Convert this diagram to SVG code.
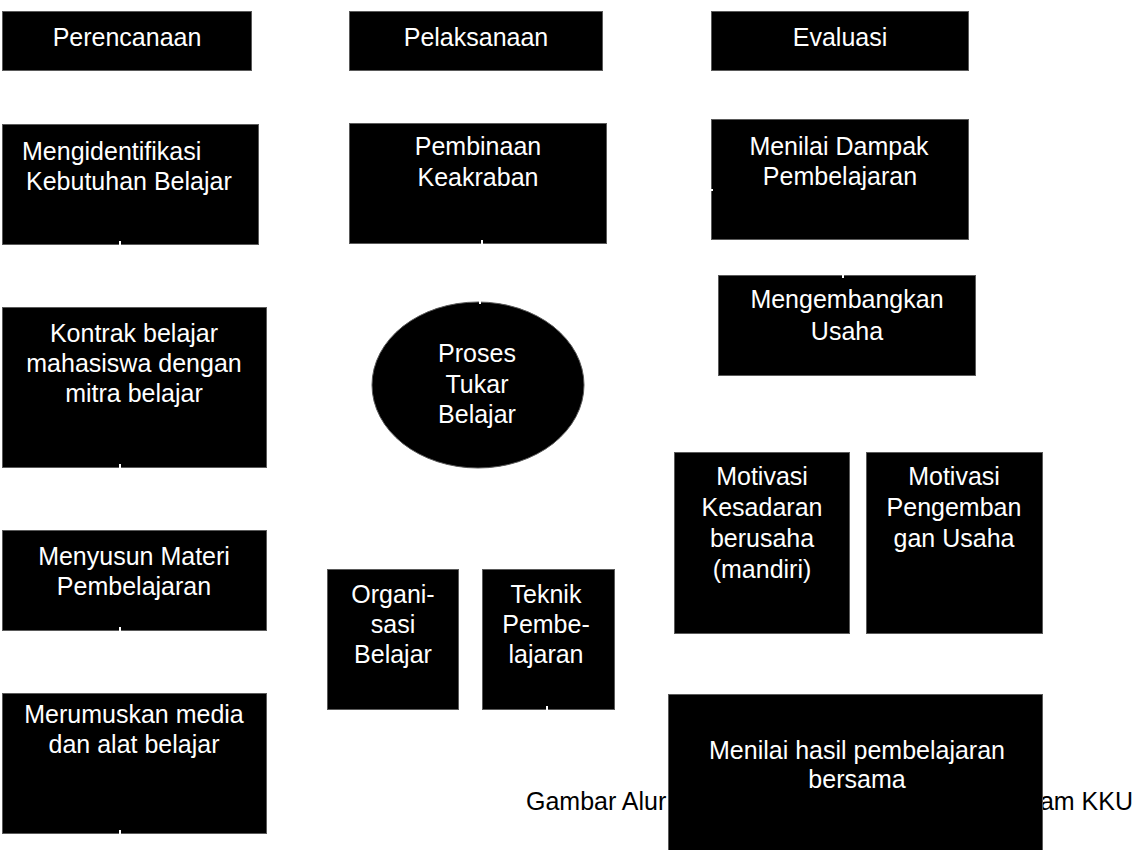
<svg xmlns="http://www.w3.org/2000/svg" width="1139" height="850" viewBox="0 0 1139 850">
<style>
.box{fill:#000;stroke:#5a5a5a;stroke-width:1}
.t{font-family:"Liberation Sans",Arial,sans-serif;font-size:25px;fill:#fff;text-anchor:middle}
.ts{font-family:"Liberation Sans",Arial,sans-serif;font-size:25px;fill:#fff;text-anchor:start}
.cap{font-family:"Liberation Sans",Arial,sans-serif;font-size:25px;fill:#000}
.tick{stroke:#fff;stroke-width:2}
</style>
<rect width="1139" height="850" fill="#fff"/>
<g id="caption">
<text class="cap" x="526" y="810">Gambar Alur</text>
<text class="cap" x="1133" y="810" text-anchor="end">am KKU</text>
</g>
<g id="perencanaan"><rect class="box" x="2.5" y="11.5" width="249" height="59"/><text class="t" x="127" y="46">Perencanaan</text></g>
<g id="pelaksanaan"><rect class="box" x="349.5" y="11.5" width="253" height="59"/><text class="t" x="476" y="46">Pelaksanaan</text></g>
<g id="evaluasi"><rect class="box" x="711.5" y="11.5" width="257" height="59"/><text class="t" x="840" y="46">Evaluasi</text></g>
<g id="mengidentifikasi"><rect class="box" x="2.5" y="124.5" width="256" height="120"/><text class="ts" x="22" y="160">Mengidentifikasi</text><text class="ts" x="26" y="190">Kebutuhan Belajar</text></g>
<g id="pembinaan"><rect class="box" x="349.5" y="123.5" width="257" height="120"/><text class="t" x="478" y="155">Pembinaan</text><text class="t" x="478" y="186">Keakraban</text></g>
<g id="menilai-dampak"><rect class="box" x="711.5" y="119.5" width="257" height="120"/><text class="t" x="839" y="155">Menilai Dampak</text><text class="t" x="840" y="185">Pembelajaran</text></g>
<g id="mengembangkan"><rect class="box" x="718.5" y="275.5" width="257" height="100"/><text class="t" x="847" y="308">Mengembangkan</text><text class="t" x="847" y="340">Usaha</text></g>
<g id="kontrak"><rect class="box" x="2.5" y="307.5" width="264" height="160"/><text class="t" x="134" y="342">Kontrak belajar</text><text class="t" x="134" y="372">mahasiswa dengan</text><text class="t" x="134" y="402">mitra belajar</text></g>
<g id="proses"><ellipse class="box" cx="478" cy="385" rx="106" ry="83"/><text class="t" x="477" y="362">Proses</text><text class="t" x="477" y="393">Tukar</text><text class="t" x="477" y="423">Belajar</text></g>
<g id="menyusun"><rect class="box" x="2.5" y="530.5" width="264" height="100"/><text class="t" x="134" y="565">Menyusun Materi</text><text class="t" x="134" y="595">Pembelajaran</text></g>
<g id="merumuskan"><rect class="box" x="2.5" y="693.5" width="264" height="140"/><text class="t" x="134" y="723">Merumuskan media</text><text class="t" x="134" y="753">dan alat belajar</text></g>
<g id="organisasi"><rect class="box" x="327.5" y="569.5" width="131" height="140"/><text class="t" x="393" y="603">Organi-</text><text class="t" x="393" y="633">sasi</text><text class="t" x="393" y="663">Belajar</text></g>
<g id="teknik"><rect class="box" x="482.5" y="569.5" width="132" height="140"/><text class="t" x="546" y="603">Teknik</text><text class="t" x="546" y="633">Pembe-</text><text class="t" x="546" y="663">lajaran</text></g>
<g id="motivasi-kesadaran"><rect class="box" x="674.5" y="452.5" width="175" height="181"/><text class="t" x="762" y="485">Motivasi</text><text class="t" x="762" y="516">Kesadaran</text><text class="t" x="762" y="547">berusaha</text><text class="t" x="762" y="578">(mandiri)</text></g>
<g id="motivasi-pengembangan"><rect class="box" x="866.5" y="452.5" width="176" height="181"/><text class="t" x="954" y="485">Motivasi</text><text class="t" x="954" y="516">Pengemban</text><text class="t" x="954" y="547">gan Usaha</text></g>
<g id="menilai-hasil"><rect class="box" x="668.5" y="694.5" width="374" height="160"/><text class="t" x="857" y="759">Menilai hasil pembelajaran</text><text class="t" x="857" y="788">bersama</text></g>
<g id="connectors">
<line class="tick" x1="120" y1="241" x2="120" y2="250"/>
<line class="tick" x1="482" y1="240" x2="482" y2="250"/>
<line class="tick" x1="120" y1="464" x2="120" y2="472"/>
<line class="tick" x1="120" y1="627" x2="120" y2="635"/>
<line class="tick" x1="120" y1="830" x2="120" y2="838"/>
<line class="tick" x1="843" y1="270" x2="843" y2="278"/>
<line class="tick" x1="480" y1="296" x2="480" y2="304"/>
<line class="tick" x1="547" y1="706" x2="547" y2="714"/>
<line class="tick" x1="706" y1="190" x2="713" y2="190"/>
</g>
</svg>
